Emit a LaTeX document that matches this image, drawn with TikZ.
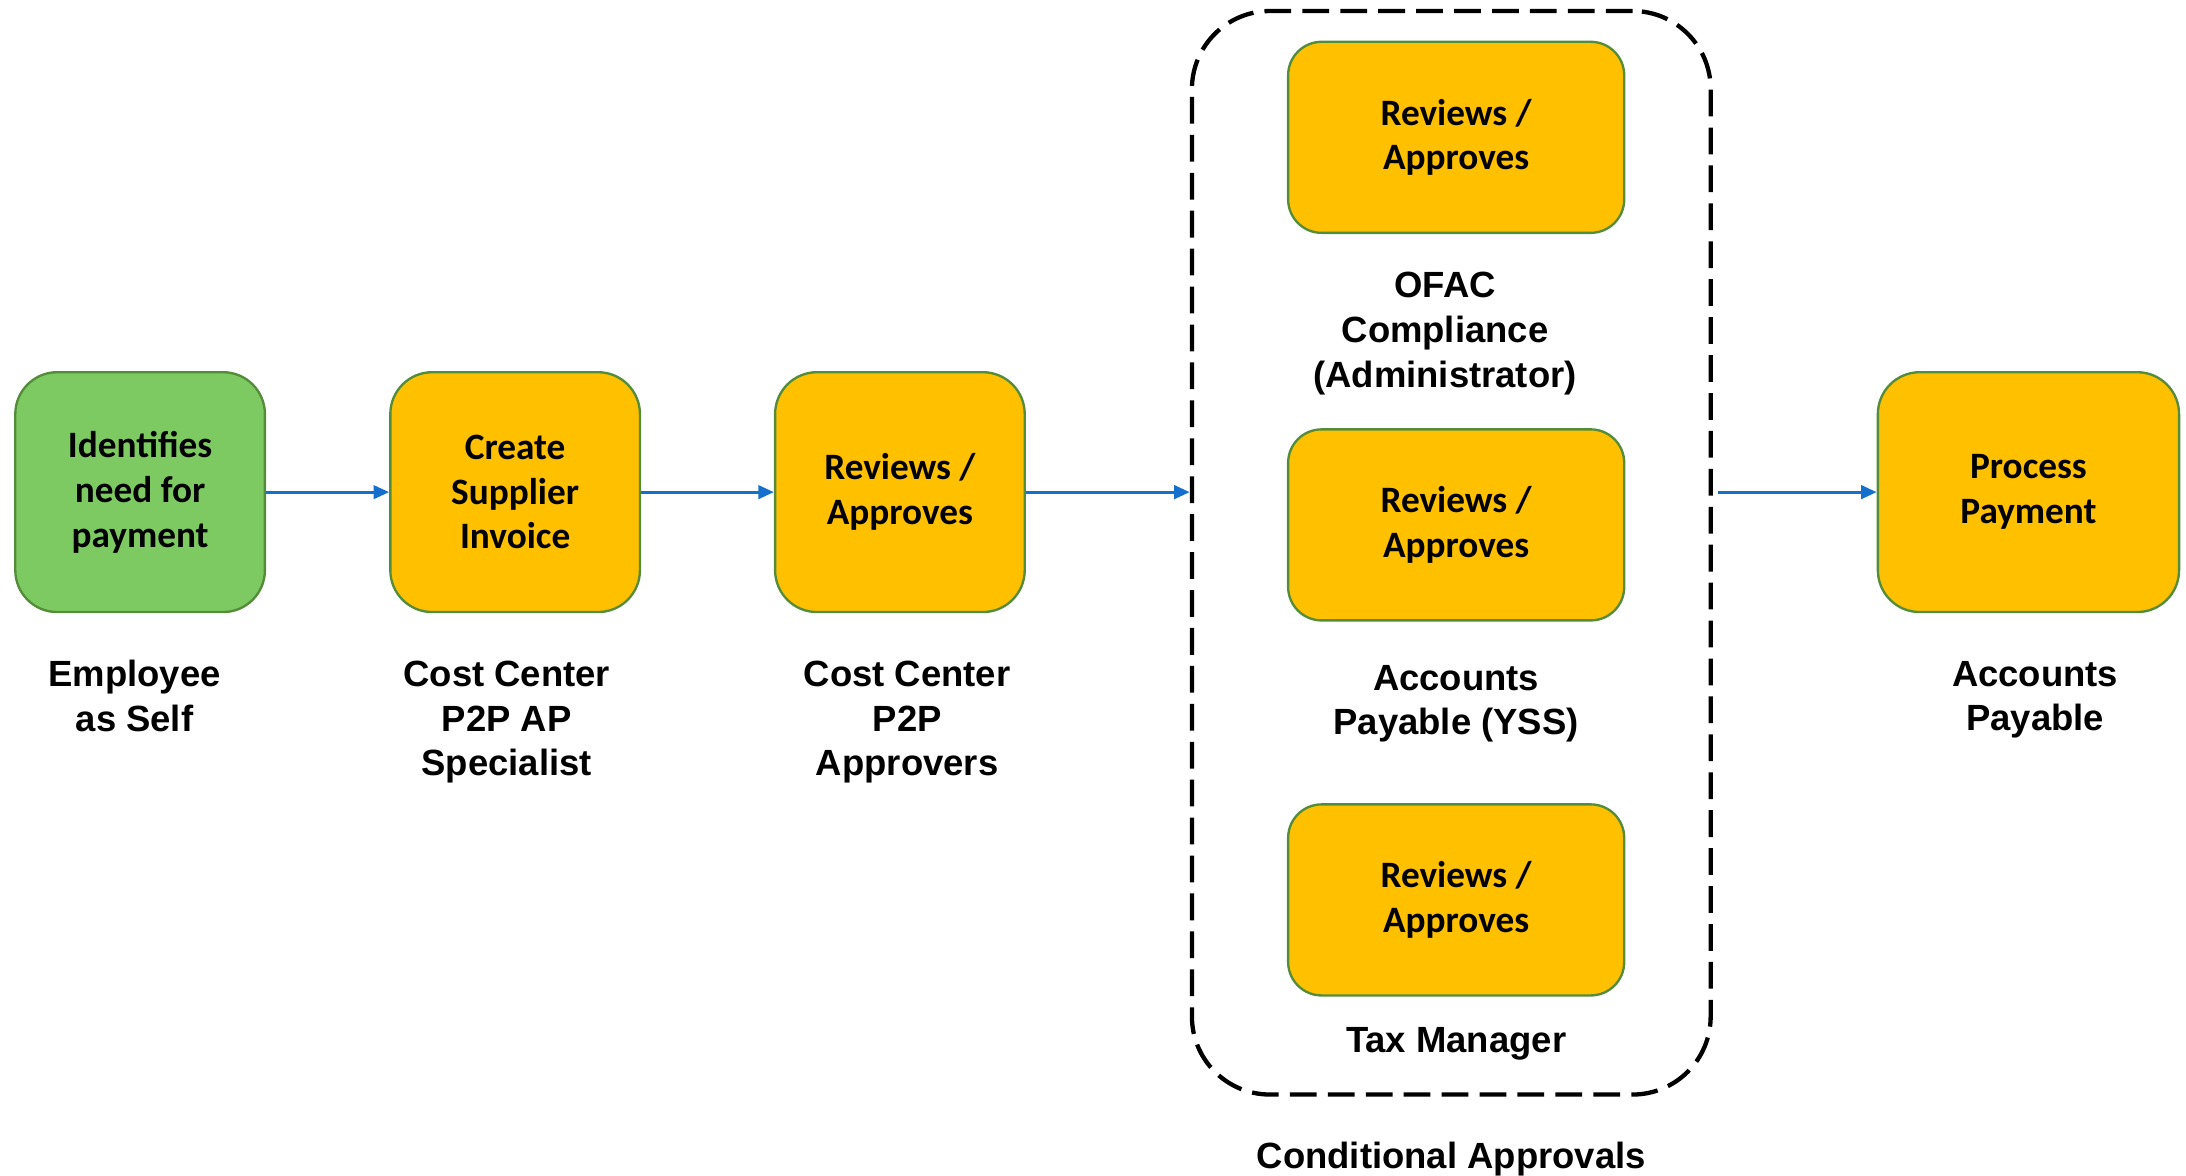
\documentclass[tikz,border=0pt]{standalone}
\usepackage{fontspec}
\setmainfont{Liberation Sans}
\newfontfamily\calibri{Carlito}
\usepackage{xcolor}
\usepackage{tikz}
\usetikzlibrary{positioning,arrows.meta}

\definecolor{startgreen}{RGB}{125,202,98}
\definecolor{taskorange}{RGB}{255,192,0}
\definecolor{boxedge}{RGB}{84,140,58}
\definecolor{flowblue}{RGB}{20,112,204}

\tikzset{
	taskbox/.style={rectangle, rounded corners=0.75cm, draw=boxedge, line width=1.2pt,
		fill=taskorange, minimum width=4.475cm, minimum height=4.3cm, inner sep=0,
		align=center, font=\calibri\bfseries\fontsize{19}{22.8}\selectfont},
	startbox/.style={taskbox, fill=startgreen},
	checkbox/.style={taskbox, minimum width=6.025cm, minimum height=3.425cm, rounded corners=0.6cm},
	rolelabel/.style={align=center, inner sep=0, font=\bfseries\fontsize{18.6}{22.8}\selectfont},
	flowarrow/.style={draw=flowblue, line width=1.6pt, -{Triangle[length=0.28cm,width=0.24cm]}},
}

\begin{document}
\begin{tikzpicture}[x=0.025cm,y=-0.025cm]
	\useasboundingbox (0,0) rectangle (1568,843);

	% main flow
	\node[startbox] (need) at (100.5,353) {Identifies\\need for\\payment};
	\node[taskbox] (invoice) at (369.5,353) {Create\\Supplier\\Invoice};
	\node[taskbox] (ccapprove) at (645.5,353) {Reviews /\\Approves};
	\node[taskbox, minimum width=5.4cm] (payment) at (1455,353) {Process\\Payment};

	% conditional approvals
	\node[draw, line width=2.2pt, dash pattern=on 0.48cm off 0.2cm, rounded corners=1.4cm,
		minimum width=9.3cm, minimum height=19.425cm] (cond) at (1041,396.5) {};
	\node[checkbox] (ofac) at (1044.5,98.5) {Reviews /\\Approves};
	\node[checkbox] (apyss) at (1044.5,376.5) {Reviews /\\Approves};
	\node[checkbox] (tax) at (1044.5,645.5) {Reviews /\\Approves};

	% who does it
	\node[rolelabel, below=0.83cm of need, xshift=-0.1cm] (needrole) {Employee\\as Self};
	\node[rolelabel, below=0.85cm of invoice, xshift=-0.15cm] (invoicerole) {Cost Center\\P2P AP\\Specialist};
	\node[rolelabel, below=0.85cm of ccapprove, xshift=0.13cm] (ccrole) {Cost Center\\P2P\\Approvers};
	\node[rolelabel, below=0.68cm of ofac, xshift=-0.2cm] (ofacrole) {OFAC\\Compliance\\(Administrator)};
	\node[rolelabel, below=0.77cm of apyss] (apyssrole) {Accounts\\Payable (YSS)};
	\node[rolelabel, below=0.54cm of tax] (taxrole) {Tax Manager};
	\node[rolelabel, below=0.85cm of payment, xshift=0.12cm] (paymentrole) {Accounts\\Payable};
	\node[rolelabel, below=0.8cm of cond] (condrole) {Conditional Approvals};

	% arrows
	\draw[flowarrow] (need) -- (invoice);
	\draw[flowarrow] (invoice) -- (ccapprove);
	\draw[flowarrow] (ccapprove.east) -- (ccapprove.east -| cond.west);
	\draw[flowarrow] ([xshift=0.1cm]cond.east |- payment) -- (payment);
\end{tikzpicture}
\end{document}
